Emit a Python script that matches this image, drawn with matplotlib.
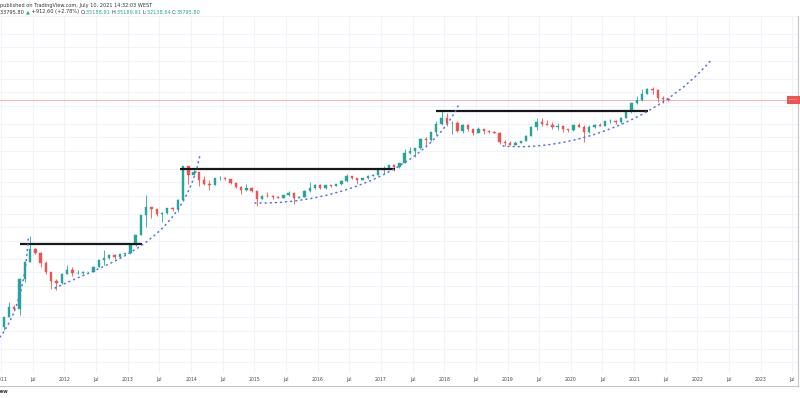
import matplotlib
matplotlib.use("Agg")
import matplotlib.pyplot as plt
import numpy as np
from matplotlib.path import Path
from matplotlib.patches import PathPatch, Rectangle
from matplotlib.lines import Line2D

# ---------------- data (monthly candles, Jan 2011 .. Jul 2021) ----------------
start_year = 2011
opens = [0.30, 0.52, 0.86, 0.78, 3.50, 8.70, 16.1, 13.4, 8.2, 5.1, 3.25, 2.97,
         4.7, 5.5, 4.9, 4.9, 5.0, 5.2, 6.7, 9.2, 10.2, 12.4, 11.2, 12.6,
         13.5, 20.4, 33.4, 93, 139, 129, 97, 106, 135, 128, 204, 1130,
         732, 830, 560, 450, 445, 625, 640, 585, 480, 386, 338, 378,
         320, 218, 254, 244, 236, 230, 263, 284, 230, 236, 314, 378,
         430, 368, 437, 416, 448, 530, 675, 624, 575, 609, 700, 745,
         963, 965, 1190, 1080, 1350, 2300, 2480, 2870, 4700, 4340, 6450, 9950,
         13800, 10200, 10300, 6900, 9240, 7500, 6390, 7730, 7020, 6630, 6310, 4000,
         3740, 3460, 3820, 4100, 5320, 8560, 10820, 10080, 9600, 8300, 9150, 7550,
         7190, 9350, 8530, 6410, 8630, 9450, 9140, 11350, 11650, 10780, 13800, 19700,
         28990, 33100, 45200, 58800, 57700, 37300, 35000]
highs = [0.50, 1.10, 0.95, 3.80, 8.90, 31.9, 17.5, 14.0, 8.9, 5.2, 3.6, 4.9,
         7.4, 6.5, 5.5, 5.4, 5.2, 6.8, 9.3, 15.4, 12.9, 12.5, 12.6, 13.8,
         20.8, 33.4, 95, 266, 140, 130, 110, 136, 140, 215, 1163, 1150,
         1020, 860, 700, 550, 630, 680, 660, 600, 500, 415, 460, 400,
         320, 265, 300, 260, 247, 268, 315, 285, 245, 330, 500, 470,
         460, 445, 440, 470, 550, 780, 705, 630, 630, 720, 760, 975,
         1150, 1200, 1300, 1380, 2790, 3000, 2930, 4750, 5000, 6470, 11400, 19700,
         17200, 11800, 11700, 9800, 9990, 7760, 8500, 7760, 7400, 7000, 6600, 4300,
         4100, 4200, 4100, 5600, 9000, 13800, 13200, 12300, 10950, 10500, 9500, 7750,
         9580, 10500, 9190, 9460, 10080, 10400, 11450, 12470, 12070, 14100, 19900, 29300,
         41950, 58350, 61800, 64850, 59600, 41300, 36000]
lows = [0.26, 0.52, 0.70, 0.56, 3.00, 8.70, 12.6, 6.7, 4.5, 2.1, 2.0, 2.8,
        4.6, 4.2, 4.6, 4.7, 4.9, 5.2, 6.5, 7.1, 9.9, 9.9, 10.4, 12.3,
        12.9, 19.1, 33.1, 50, 79, 88, 65, 98, 118, 110, 197, 455,
        730, 420, 440, 340, 430, 550, 570, 450, 370, 275, 320, 305,
        152, 212, 236, 214, 228, 219, 253, 162, 225, 235, 300, 350,
        355, 365, 395, 412, 440, 520, 600, 470, 570, 605, 680, 740,
        750, 920, 890, 1060, 1350, 2100, 1840, 2700, 2980, 4100, 5500, 9400,
        9000, 5900, 6500, 6400, 7040, 5750, 6100, 5880, 6100, 6200, 3500, 3200,
        3400, 3380, 3700, 4050, 5300, 7450, 9100, 9400, 7700, 7300, 6500, 6430,
        6860, 8450, 3850, 6150, 8100, 8900, 8900, 10520, 9880, 10400, 13200, 17600,
        28100, 32300, 44900, 47000, 30000, 28800, 32700]
closes = [0.52, 0.86, 0.78, 3.50, 8.70, 16.1, 13.4, 8.2, 5.1, 3.25, 2.97, 4.7,
          5.5, 4.9, 4.9, 5.0, 5.2, 6.7, 9.2, 10.2, 12.4, 11.2, 12.6, 13.5,
          20.4, 33.4, 93, 139, 129, 97, 106, 135, 128, 204, 1130, 732,
          830, 560, 450, 445, 625, 640, 585, 480, 386, 338, 378, 320,
          218, 254, 244, 236, 230, 263, 284, 230, 236, 314, 378, 430,
          368, 437, 416, 448, 530, 675, 624, 575, 609, 700, 745, 963,
          965, 1190, 1080, 1350, 2300, 2480, 2870, 4700, 4340, 6450, 9950, 13800,
          10200, 10300, 6900, 9240, 7500, 6390, 7730, 7020, 6630, 6310, 4000, 3740,
          3460, 3820, 4100, 5320, 8560, 10820, 10080, 9600, 8300, 9150, 7550, 7190,
          9350, 8530, 6410, 8630, 9450, 9140, 11350, 11650, 10780, 13800, 19700, 28990,
          33100, 45200, 58800, 57700, 37300, 35000, 33800]

last_price = 33795.80

# horizontal resistance lines drawn on the chart: (start, end, price)
hline_start = [2011.30, 2013.83, 2017.87]
hline_end = [2013.23, 2017.22, 2021.22]
hline_price = [21, 975, 19270]

# dotted support curves: cubic Bezier anchor / control points (year, price)
curve_x = [[2010.983, 2011.220, 2011.393, 2011.430],
           [2011.851, 2012.720, 2013.858, 2014.142],
           [2015.011, 2016.354, 2017.776, 2018.218],
           [2018.929, 2019.988, 2021.410, 2022.216]]
curve_y = [[0.183, 0.484, 2.62, 32.1],
           [2.24, 8.49, 20.3, 2028],
           [174, 157, 1216, 24880],
           [3214, 2360, 12160, 261800]]

tick_years = list(range(2011, 2024))

# ---------------- figure ----------------
W, H = 800, 398
fig = plt.figure(figsize=(W / 100, H / 100), dpi=100)
top_px, bot_px, right_px = 16, 373, 798
ax = fig.add_axes([0, 1 - bot_px / H, right_px / W, (bot_px - top_px) / H])
ax.set_yscale('log')
ax.set_xlim(2010.9826, 2023.589)
ax.set_ylim(0.02899, 2.487e6)

# grid
grid_c = '#f0f3fa'
for yv in tick_years:
    ax.axvline(yv, color=grid_c, lw=0.8, zorder=0)
    ax.axvline(yv + 0.5, color=grid_c, lw=0.8, zorder=0)
for dec in range(-2, 7):
    for m in (1, 2.5, 5):
        ax.axhline(m * 10.0 ** dec, color=grid_c, lw=0.8, zorder=0)

# last price line
ax.axhline(last_price, color='#f6b3b1', lw=0.7, zorder=1)

# candles
o = np.array(opens); h = np.array(highs); l = np.array(lows); c = np.array(closes)
xs = start_year + (np.arange(len(c)) + 0.5) / 12.0
up = c >= o
col = np.where(up, '#26a69a', '#ef5350')
ax.vlines(xs, l, h, colors=col, lw=0.6, zorder=2)
bw = 0.45 / 12.0
ax.bar(xs, np.abs(c - o), bottom=np.minimum(o, c), width=bw, color=col,
       edgecolor=col, linewidth=0.3, zorder=3)

# black horizontal lines
ax.hlines(hline_price, hline_start, hline_end, colors='#181818', lw=1.6, zorder=4)

# dotted curves
codes = [Path.MOVETO, Path.CURVE4, Path.CURVE4, Path.CURVE4]
for cx, cy in zip(curve_x, curve_y):
    p = Path(list(zip(cx, cy)), codes)
    ax.add_patch(PathPatch(p, fill=False, edgecolor='#5874e0', lw=1.15,
                           linestyle=(0, (0.6, 2.6)), capstyle='round', zorder=5))

# axes styling
for s in ('top', 'left', 'bottom'):
    ax.spines[s].set_visible(False)
ax.spines['right'].set_color('#c3c6ce')
ax.spines['right'].set_linewidth(0.8)
ax.set_yticks([])
ax.yaxis.set_minor_locator(matplotlib.ticker.NullLocator())
xt, xl = [], []
for yv in tick_years:
    xt += [yv, yv + 0.5]
    xl += [str(yv), 'Jul']
ax.set_xticks(xt)
ax.set_xticklabels(xl, fontsize=3.3, color='#444444')
ax.tick_params(axis='x', length=0, pad=3.2)

# time scale bottom border and right border extension
fig.add_artist(Line2D([0, right_px / W], [1 - 386 / H, 1 - 386 / H],
                      transform=fig.transFigure, color='#c3c6ce', lw=0.8))
fig.add_artist(Line2D([right_px / W, right_px / W], [1 - 386 / H, 1 - bot_px / H],
                      transform=fig.transFigure, color='#c3c6ce', lw=0.8))

# red last price label on the price scale
rect = Rectangle((787 / W, 1 - 103.5 / H), 13 / W, 7 / H, transform=fig.transFigure,
                 facecolor='#ef5350', edgecolor='none', zorder=10)
fig.add_artist(rect)
fig.text(793 / W, 1 - 100 / H, '33795.8', fontsize=1.6, color='white',
         va='center', ha='center', zorder=11)

# header texts
fs = 3.6
fig.text(0.5 / W, 1 - 5 / H, 'published on TradingView.com, July 10, 2021 14:32:03 WEST',
         fontsize=fs, color='#333333', va='center', ha='left')
renderer = fig.canvas.get_renderer()
parts = [('33795.80 ', '#333333'), ('\u25b2', '#26a69a'), (' +912.60 (+2.78%) ', '#333333'),
         ('O:', '#333333'), ('35188.91 ', '#26a69a'), ('H:', '#333333'), ('35189.91 ', '#26a69a'),
         ('L:', '#333333'), ('32138.64 ', '#26a69a'), ('C:', '#333333'), ('33795.80', '#26a69a')]
xpos = 0.5
for s, cc in parts:
    t = fig.text(xpos / W, 1 - 12 / H, s, fontsize=fs, color=cc, va='center', ha='left')
    xpos += t.get_window_extent(renderer).width

# watermark (cut off at the left edge in the original snapshot)
fig.text(9 / W, 1 - 392 / H, 'TradingView', fontsize=3.6, color='#333333',
         va='center', ha='right', weight='bold')

fig.savefig('out.png', dpi=100, facecolor='white')
